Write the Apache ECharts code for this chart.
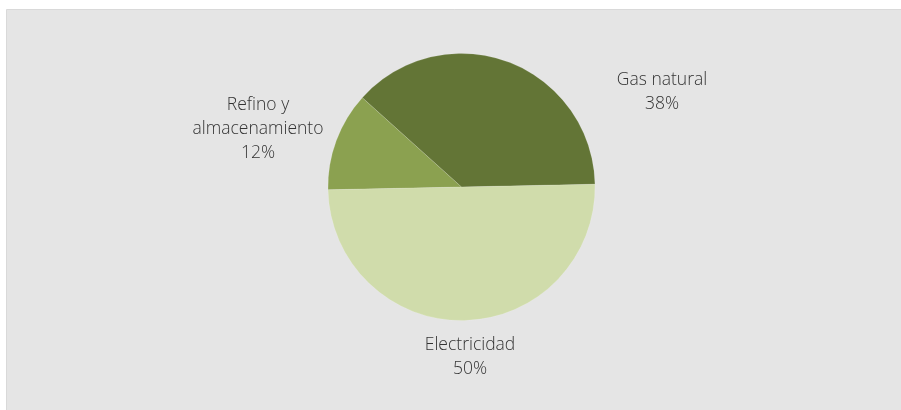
<!DOCTYPE html>
<html>
<head>
<meta charset="utf-8">
<script src="https://cdn.jsdelivr.net/npm/echarts@6/dist/echarts.min.js"></script>
<style>
html,body{margin:0;padding:0;background:#fff;}
#chart{width:901px;height:410px;}
</style>
</head>
<body>
<div id="chart"></div>
<script>
var categories = ['Gas natural', 'Refino y\nalmacenamiento', 'Electricidad'];
var values = [38, 12, 50];
var colors = ['#637536', '#8ba150', '#d0dcab'];
var labelPos = [[662, 92], [258, 129], [470, 357]];

var chart = echarts.init(document.getElementById('chart'), null, {renderer: 'canvas'});
chart.setOption({
  animation: false,
  backgroundColor: '#ffffff',
  graphic: [{
    type: 'rect', z: -10,
    shape: {x: 6.5, y: 9.5, width: 910, height: 420},
    style: {fill: '#e5e5e5', stroke: '#d9d9d9', lineWidth: 1}
  }],
  series: [{
    type: 'pie',
    center: [461.5, 187],
    radius: [0, 133.5],
    clockwise: false,
    startAngle: 1.2,
    silent: true,
    data: categories.map(function (c, i) {
      return {name: c, value: values[i], itemStyle: {color: colors[i]}};
    }),
    itemStyle: {borderColor: 'rgba(255,255,255,0.25)', borderWidth: 0.5},
    label: {
      show: true,
      position: 'outside',
      formatter: function (p) { return p.name + '\n' + Math.round(p.percent) + '%'; },
      fontFamily: 'Open Sans',
      fontWeight: 300,
      fontSize: 17.5,
      lineHeight: 24,
      color: '#333333',
      align: 'center'
    },
    labelLine: {show: false},
    labelLayout: function (params) {
      var p = labelPos[params.dataIndex];
      return {x: p[0], y: p[1], align: 'center', verticalAlign: 'middle'};
    }
  }]
});
</script>
</body>
</html>
